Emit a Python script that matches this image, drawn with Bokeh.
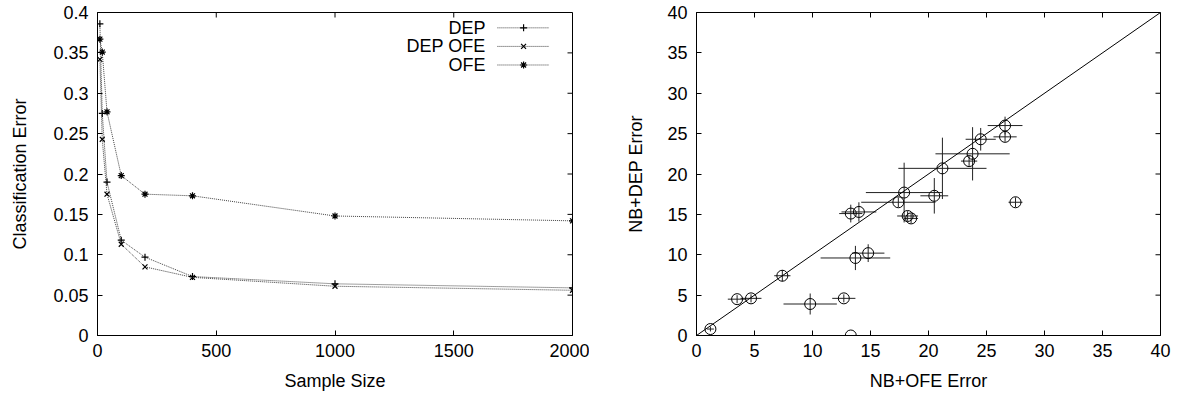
from bokeh.plotting import figure
from bokeh.layouts import row
from bokeh.models import (Range1d, FixedTicker, Label, ColumnDataSource, Slope)
from bokeh.embed import file_html
from bokeh.resources import INLINE

# ---------------- data: left panel ----------------
sample_size = [10, 20, 40, 100, 200, 400, 1000, 2000]
err_dep = [0.386, 0.275, 0.190, 0.118, 0.097, 0.073, 0.064, 0.059]
err_dep_ofe = [0.342, 0.243, 0.175, 0.113, 0.085, 0.072, 0.061, 0.056]
err_ofe = [0.367, 0.351, 0.277, 0.198, 0.175, 0.173, 0.148, 0.142]
series_names = ["DEP", "DEP OFE", "OFE"]
left_xticks = [0, 500, 1000, 1500, 2000]
left_yticks = [0, 0.05, 0.1, 0.15, 0.2, 0.25, 0.3, 0.35, 0.4]
left_ylabels = ["0", "0.05", "0.1", "0.15", "0.2", "0.25", "0.3", "0.35", "0.4"]

# ---------------- data: right panel ----------------
nb_ofe = [1.2, 3.5, 4.7, 7.4, 9.8, 12.7, 13.3, 13.7, 14.8, 13.3, 14.0, 17.4,
          17.9, 18.2, 18.5, 20.5, 21.2, 23.5, 23.8, 24.5, 26.6, 26.6, 27.5]
nb_dep = [0.8, 4.5, 4.6, 7.4, 3.9, 4.6, 0.0, 9.6, 10.2, 15.1, 15.3, 16.5,
          17.7, 14.8, 14.5, 17.3, 20.7, 21.6, 22.5, 24.3, 26.0, 24.6, 16.5]
nb_ofe_sd = [0.3, 0.8, 0.9, 0.7, 2.3, 1.0, 0.0, 3.0, 1.4, 1.0, 1.5, 3.2,
             3.3, 0.9, 0.6, 1.2, 3.8, 0.7, 3.2, 1.3, 1.5, 1.0, 0.6]
nb_dep_sd = [0.3, 0.5, 0.5, 0.7, 1.3, 0.5, 0.0, 1.5, 1.1, 1.1, 1.2, 0.6,
             3.7, 0.6, 0.6, 2.2, 3.8, 0.6, 3.3, 1.4, 1.1, 0.6, 0.6]
right_ticks = [0, 5, 10, 15, 20, 25, 30, 35, 40]

FONT = "Liberation Sans"
FS = "18px"
TICK_PX = 5


def style(p, xticks, yticks, frame_w, frame_h, ylabels=None):
    p.outline_line_color = "black"
    p.outline_line_width = 1
    p.outline_line_alpha = 1
    p.xgrid.visible = False
    p.ygrid.visible = False
    p.background_fill_color = "white"
    p.border_fill_color = "white"
    for ax in p.xaxis + p.yaxis:
        ax.major_tick_in = TICK_PX
        ax.major_tick_out = 0
        ax.minor_tick_line_color = None
        ax.axis_line_color = "black"
        ax.major_tick_line_color = "black"
        ax.major_label_text_font = FONT
        ax.major_label_text_font_size = FS
        ax.major_label_text_color = "black"
        ax.axis_label_text_font = FONT
        ax.axis_label_text_font_size = FS
        ax.axis_label_text_font_style = "normal"
        ax.axis_label_text_color = "black"
    p.xaxis.ticker = FixedTicker(ticks=xticks)
    p.yaxis.ticker = FixedTicker(ticks=yticks)
    if ylabels is not None:
        p.yaxis.major_label_overrides = {t: l for t, l in zip(yticks, ylabels)}
    p.xaxis.major_label_standoff = 8
    p.yaxis.major_label_standoff = 9
    # mirrored inward ticks on the right and top edges (gnuplot style)
    x0, x1 = p.x_range.start, p.x_range.end
    y0, y1 = p.y_range.start, p.y_range.end
    dx = TICK_PX * (x1 - x0) / frame_w
    dy = TICK_PX * (y1 - y0) / frame_h
    p.segment(x0=[x1 - dx] * len(yticks), y0=yticks, x1=[x1] * len(yticks), y1=yticks,
              line_color="black", line_width=1)
    p.segment(x0=xticks, y0=[y1 - dy] * len(xticks), x1=xticks, y1=[y1] * len(xticks),
              line_color="black", line_width=1)


# ---------------- left figure ----------------
p1 = figure(width=589, height=394, output_backend="svg", toolbar_location=None,
            x_range=Range1d(0, 2000), y_range=Range1d(0, 0.4),
            min_border_left=97, min_border_right=17, min_border_top=12, min_border_bottom=59,
            x_axis_label="Sample Size", y_axis_label="Classification Error")
style(p1, left_xticks, left_yticks, 589 - 97 - 17, 394 - 12 - 59, left_ylabels)
p1.xaxis.axis_label_standoff = 11
p1.yaxis.axis_label_standoff = 20

markers = ["cross", "x", "asterisk"]
all_series = [err_dep, err_dep_ofe, err_ofe]
line_kw = dict(line_color="#222222", line_width=1, line_dash="1 1", line_alpha=0.85)
for ys, mk in zip(all_series, markers):
    p1.line(sample_size, ys, **line_kw)
    p1.scatter(sample_size, ys, marker=mk, size=7, line_color="black", line_width=1.2,
               fill_color="black")

# gnuplot-style key (text left, sample right)
key_rows = [0.381, 0.358, 0.335]
for name, mk, ky in zip(series_names, markers, key_rows):
    p1.add_layout(Label(x=1634, y=ky, text=name, text_align="right", text_baseline="middle",
                        text_font=FONT, text_font_size=FS, text_color="black"))
    p1.segment(x0=[1684], y0=[ky], x1=[1903], y1=[ky], **line_kw)
    p1.scatter([1794], [ky], marker=mk, size=7, line_color="black", line_width=1.2,
               fill_color="black")

# ---------------- right figure ----------------
p2 = figure(width=589, height=394, output_backend="svg", toolbar_location=None,
            x_range=Range1d(0, 40), y_range=Range1d(0, 40),
            min_border_left=107, min_border_right=18, min_border_top=12, min_border_bottom=59,
            x_axis_label="NB+OFE Error", y_axis_label="NB+DEP Error")
style(p2, right_ticks, right_ticks, 589 - 107 - 18, 394 - 12 - 59)
p2.xaxis.axis_label_standoff = 11
p2.yaxis.axis_label_standoff = 18

p2.add_layout(Slope(gradient=1, y_intercept=0, line_color="black", line_width=1))

src = ColumnDataSource(dict(
    x=nb_ofe, y=nb_dep,
    xl=[a - b for a, b in zip(nb_ofe, nb_ofe_sd)], xh=[a + b for a, b in zip(nb_ofe, nb_ofe_sd)],
    yl=[a - b for a, b in zip(nb_dep, nb_dep_sd)], yh=[a + b for a, b in zip(nb_dep, nb_dep_sd)],
))
p2.segment(x0="xl", y0="y", x1="xh", y1="y", source=src, line_color="#222222", line_width=1)
p2.segment(x0="x", y0="yl", x1="x", y1="yh", source=src, line_color="#222222", line_width=1)
p2.scatter("x", "y", source=src, marker="circle", size=11, fill_color=None,
           line_color="black", line_width=1)

layout = row(p1, p2)
open("out.html", "w").write(file_html(layout, INLINE))
